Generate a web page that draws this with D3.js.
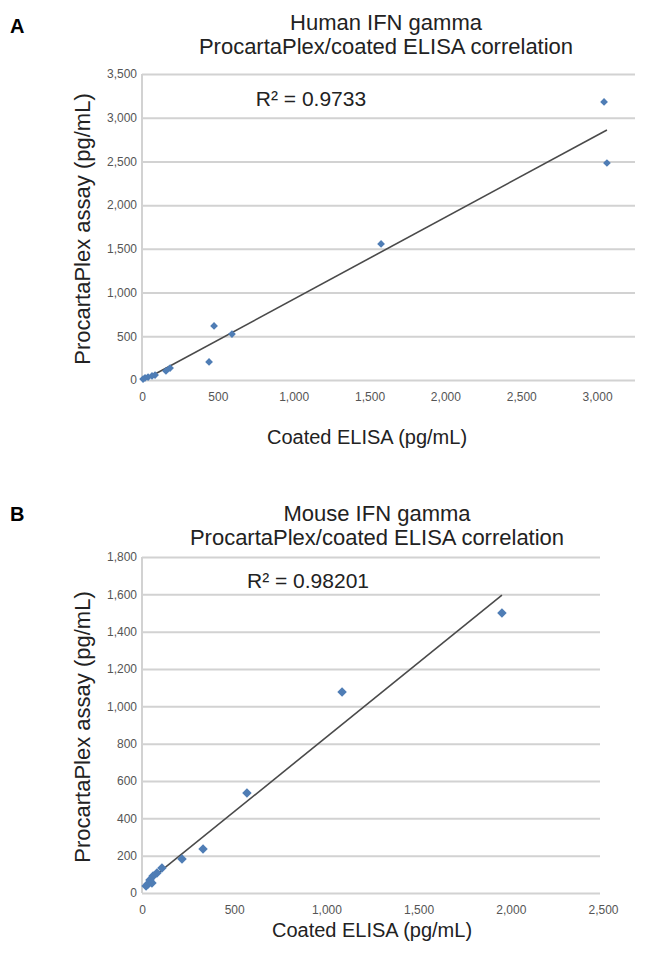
<!DOCTYPE html>
<html>
<head>
<meta charset="utf-8">
<script src="https://cdn.jsdelivr.net/npm/d3@7"></script>
<style>
  body { margin: 0; background: #fff; }
  text { font-family: "Liberation Sans", Arial, sans-serif; }
</style>
</head>
<body>
<div id="main"></div>
<script>
// Valores
var humanElisa    = [3046, 3065, 1576, 475, 593, 442, 185, 158, 86, 66, 40, 20, 7];
var humanProcarta = [3180, 2482, 1556, 618, 526, 206, 137, 103, 57, 46, 34, 23, 11];
var humanXTicks = [0, 500, 1000, 1500, 2000, 2500, 3000];
var humanYTicks = [0, 500, 1000, 1500, 2000, 2500, 3000, 3500];

var mouseElisa    = [1952, 1085, 569, 331, 217, 108, 81, 60, 43, 33, 54, 22];
var mouseProcarta = [1500, 1077, 536, 236, 182, 134, 107, 91, 70, 48, 54, 38];
var mouseXTicks = [0, 500, 1000, 1500, 2000, 2500];
var mouseYTicks = [0, 200, 400, 600, 800, 1000, 1200, 1400, 1600, 1800];

var panelLetters = ["A", "B"];
var titleLines = [
  ["Human IFN gamma", "ProcartaPlex/coated ELISA correlation"],
  ["Mouse IFN gamma", "ProcartaPlex/coated ELISA correlation"]
];
var rSquared = ["R\u00b2 = 0.9733", "R\u00b2 = 0.98201"];
var xTitle = "Coated ELISA (pg/mL)";
var yTitle = "ProcartaPlex assay (pg/mL)";

var svg = d3.select("#main").append("svg")
  .attr("width", 662)
  .attr("height", 954);

// Dibujar un panel completo
function dibujarPanel(p) {
  var g = svg.append("g");

  var x = d3.scaleLinear().domain(p.xDomain).range([p.left, p.right]);
  var y = d3.scaleLinear().domain(p.yDomain).range([p.bottom, p.top]);

  // lineas de la cuadricula
  g.append("g")
    .attr("transform", "translate(" + p.left + ",0)")
    .call(d3.axisLeft(y).tickValues(p.yTicks).tickSize(-(p.gridRight - p.left)).tickFormat(d3.format(",")))
    .call(function(a) {
      a.select(".domain").remove();
      a.selectAll("line").attr("stroke", "#d2d2d2").attr("stroke-width", 2);
      a.selectAll("text").attr("x", -5).attr("fill", "#555").attr("font-size", 12)
        .style("font-family", "'Liberation Sans', Arial, sans-serif");
    });

  // eje vertical
  g.append("line")
    .attr("x1", p.left).attr("x2", p.left)
    .attr("y1", p.top).attr("y2", p.bottom)
    .attr("stroke", "#d2d2d2").attr("stroke-width", 2);

  // eje X
  g.append("g")
    .attr("transform", "translate(0," + p.bottom + ")")
    .call(d3.axisBottom(x).tickValues(p.xTicks).tickSize(0).tickPadding(12).tickFormat(d3.format(",")))
    .call(function(a) {
      a.select(".domain").remove();
      a.selectAll("text").attr("fill", "#555").attr("font-size", 12)
        .style("font-family", "'Liberation Sans', Arial, sans-serif");
    });

  // linea de tendencia (minimos cuadrados)
  var n = p.xs.length;
  var mx = d3.mean(p.xs), my = d3.mean(p.ys);
  var sxy = 0, sxx = 0;
  for (var i = 0; i < n; i++) {
    sxy += (p.xs[i] - mx) * (p.ys[i] - my);
    sxx += (p.xs[i] - mx) * (p.xs[i] - mx);
  }
  var m = sxy / sxx, b = my - m * mx;
  var x0 = d3.min(p.xs), x1 = d3.max(p.xs);
  g.append("line")
    .attr("x1", x(x0)).attr("y1", y(m * x0 + b))
    .attr("x2", x(x1)).attr("y2", y(m * x1 + b))
    .attr("stroke", "#4a4a4a").attr("stroke-width", 1.6);

  // puntos
  var sym = d3.symbol().type(d3.symbolSquare).size(p.markerSize);
  g.selectAll("path.pt").data(d3.range(n)).enter().append("path")
    .attr("class", "pt")
    .attr("d", sym)
    .attr("transform", function(i) { return "translate(" + x(p.xs[i]) + "," + y(p.ys[i]) + ") rotate(45)"; })
    .attr("fill", "#4f7db5");

  // textos
  svg.append("text").attr("x", 10).attr("y", p.letterY)
    .attr("font-size", 20).attr("font-weight", "bold").text(p.letter);

  p.title.forEach(function(t, k) {
    svg.append("text").attr("x", p.titleX).attr("y", p.titleY + k * 24)
      .attr("text-anchor", "middle").attr("font-size", 22).attr("fill", "#222").text(t);
  });

  svg.append("text").attr("x", p.rX).attr("y", p.rY)
    .attr("text-anchor", "middle").attr("font-size", 21).attr("fill", "#222").text(p.r2);

  svg.append("text").attr("x", p.xTitleX).attr("y", p.xTitleY)
    .attr("text-anchor", "middle").attr("font-size", 20).attr("fill", "#222").text(xTitle);

  svg.append("text")
    .attr("transform", "translate(" + 90 + "," + ((p.top + p.bottom) / 2 + 2) + ") rotate(-90)")
    .attr("text-anchor", "middle").attr("font-size", 22).attr("fill", "#222").text(yTitle);
}

dibujarPanel({
  xs: humanElisa, ys: humanProcarta,
  xDomain: [0, 3250], yDomain: [0, 3500],
  xTicks: humanXTicks, yTicks: humanYTicks,
  left: 142, right: 635, gridRight: 635, top: 74, bottom: 380,
  markerSize: 30,
  letter: panelLetters[0], letterY: 33,
  title: titleLines[0], titleX: 386, titleY: 30,
  r2: rSquared[0], rX: 311, rY: 106,
  xTitleX: 367, xTitleY: 444
});

dibujarPanel({
  xs: mouseElisa, ys: mouseProcarta,
  xDomain: [0, 2500], yDomain: [0, 1800],
  xTicks: mouseXTicks, yTicks: mouseYTicks,
  left: 142, right: 603, gridRight: 600, top: 557, bottom: 893,
  markerSize: 45,
  letter: panelLetters[1], letterY: 521,
  title: titleLines[1], titleX: 377, titleY: 521,
  r2: rSquared[1], rX: 308, rY: 588,
  xTitleX: 372, xTitleY: 937
});
</script>
</body>
</html>
